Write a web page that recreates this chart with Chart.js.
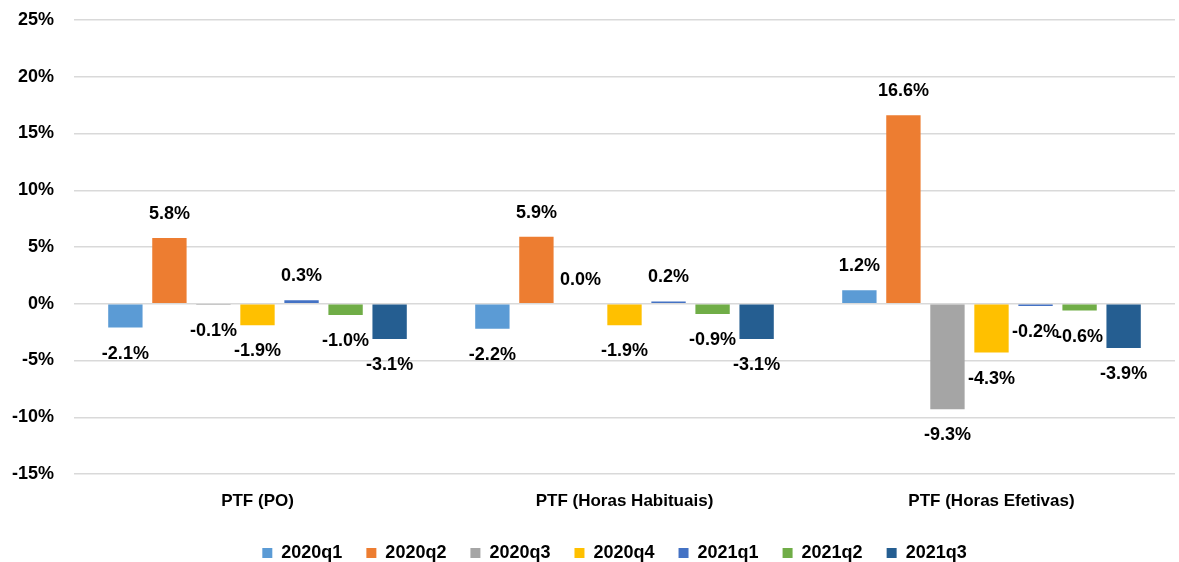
<!DOCTYPE html>
<html>
<head>
<meta charset="utf-8">
<script src="https://cdn.jsdelivr.net/npm/chart.js@4"></script>
<style>
  html, body { margin: 0; padding: 0; background: #fff; }
  #wrap { width: 1179px; height: 562px; }
</style>
</head>
<body>
<div id="wrap"><canvas id="bar-chart"></canvas></div>
<script>
var categories = ["PTF (PO)", "PTF (Horas Habituais)", "PTF (Horas Efetivas)"];
var seriesNames = ["2020q1", "2020q2", "2020q3", "2020q4", "2021q1", "2021q2", "2021q3"];
var s2020q1 = [-2.1, -2.2, 1.2];
var s2020q2 = [5.8, 5.9, 16.6];
var s2020q3 = [-0.1, 0.0, -9.3];
var s2020q4 = [-1.9, -1.9, -4.3];
var s2021q1 = [0.3, 0.2, -0.2];
var s2021q2 = [-1.0, -0.9, -0.6];
var s2021q3 = [-3.1, -3.1, -3.9];
var yTicks = [-15, -10, -5, 0, 5, 10, 15, 20, 25];

var colors = ['#5B9BD5', '#ED7D31', '#A5A5A5', '#FFC000', '#4472C4', '#70AD47', '#255E91'];
var allSeries = [s2020q1, s2020q2, s2020q3, s2020q4, s2021q1, s2021q2, s2021q3];
var FONT = '"Liberation Sans", Arial, sans-serif';

// labels above / below each bar
var valueLabels = {
  id: 'valueLabels',
  afterDatasetsDraw: function(chart) {
    var ctx = chart.ctx;
    ctx.save();
    ctx.font = 'bold 18px ' + FONT;
    ctx.fillStyle = '#000';
    ctx.textAlign = 'center';
    ctx.textBaseline = 'middle';
    chart.data.datasets.forEach(function(ds, i) {
      var meta = chart.getDatasetMeta(i);
      meta.data.forEach(function(bar, j) {
        var v = ds.data[j];
        var y = v >= 0 ? bar.y - 24 : bar.y + 26;
        ctx.fillText(v.toFixed(1) + '%', bar.x, y);
      });
    });
    ctx.restore();
  }
};

new Chart(document.getElementById("bar-chart"), {
  type: 'bar',
  data: {
    labels: categories,
    datasets: seriesNames.map(function(name, i) {
      return {
        label: name,
        data: allSeries[i],
        backgroundColor: colors[i],
        borderWidth: 0,
        categoryPercentage: 0.84,
        barPercentage: 0.78
      };
    })
  },
  options: {
    responsive: true,
    maintainAspectRatio: false,
    animation: false,
    layout: { padding: { top: 20, left: 8, right: 4, bottom: -10 } },
    plugins: {
      legend: {
        position: 'bottom',
        fullSize: false,
        labels: {
          color: '#000',
          font: { family: FONT, size: 18, weight: 'bold' },
          boxWidth: 10,
          boxHeight: 10,
          padding: 4,
          // extra spaces give the wide gaps between items
          generateLabels: function(chart) {
            var items = Chart.defaults.plugins.legend.labels.generateLabels(chart);
            items.forEach(function(it) { it.text = it.text + '    '; });
            return items;
          }
        }
      },
      tooltip: { enabled: false }
    },
    scales: {
      x: {
        grid: { display: false },
        border: { display: false },
        ticks: {
          color: '#000',
          font: { family: FONT, size: 17, weight: 'bold' },
          padding: 9
        },
        afterFit: function(scale) { scale.height = 66; }
      },
      y: {
        min: -15,
        max: 25,
        afterBuildTicks: function(scale) {
          scale.ticks = yTicks.map(function(v) { return { value: v }; });
        },
        grid: { color: '#D9D9D9', lineWidth: 1.5, drawTicks: false },
        border: { display: false },
        ticks: {
          color: '#000',
          font: { family: FONT, size: 18, weight: 'bold' },
          padding: 20,
          callback: function(v) { return v + '%'; }
        },
        afterFit: function(scale) {
          scale.width = 66;
          scale.paddingTop = 11;
          scale.paddingBottom = 11;
        }
      }
    }
  },
  plugins: [valueLabels]
});
</script>
</body>
</html>
